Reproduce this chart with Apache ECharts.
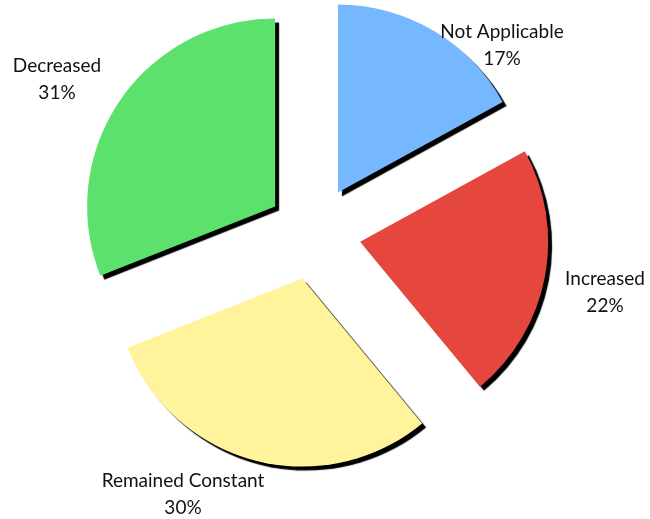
<!DOCTYPE html>
<html><head><meta charset="utf-8">
<script src="https://cdn.jsdelivr.net/npm/echarts@6/dist/echarts.min.js"></script>
<style>html,body{margin:0;padding:0;background:#fff}#c{width:650px;height:519px}</style>
</head><body><div id="c"></div>
<script>
var categories = ['Not Applicable', 'Increased', 'Remained Constant', 'Decreased'];
var values = [17, 22, 30, 31];
var colors = ['#75B8FF', '#E5473F', '#FFF39B', '#5CE26C'];
var labelPos = [[502, 45], [605, 292], [183, 494], [57, 79]];

var CX = 314, CY = 233, R = 188, EXPLODE = 47;
var total = values.reduce(function (a, b) { return a + b; }, 0);
var cum = 0;
var series = categories.map(function (name, i) {
  var mid = (cum + values[i] / 2) / total * 2 * Math.PI;
  cum += values[i];
  var center = [CX + EXPLODE * Math.sin(mid), CY - EXPLODE * Math.cos(mid)];
  return {
    type: 'pie',
    center: center,
    radius: R,
    startAngle: 90,
    clockwise: true,
    silent: true,
    emphasis: {disabled: true},
    labelLine: {show: false},
    data: categories.map(function (n, j) {
      var show = j === i;
      return {
        name: n,
        value: values[j],
        itemStyle: show ? {
          color: colors[j], shadowColor: '#000', shadowBlur: 1, shadowOffsetX: 4, shadowOffsetY: 4
        } : {color: 'rgba(0,0,0,0)', shadowColor: 'rgba(0,0,0,0)'},
        label: show ? {
          show: true,
          position: 'outside',
          overflow: 'none',
          edgeDistance: 0,
          formatter: function (p) { return p.name + '\n' + p.value + '%'; },
          fontFamily: 'Lato',
          fontSize: 19,
          lineHeight: 27,
          color: '#111'
        } : {show: false}
      };
    }),
    labelLayout: function (p) {
      return {x: labelPos[i][0], y: labelPos[i][1], align: 'center', verticalAlign: 'middle', width: 300};
    }
  };
});

var chart = echarts.init(document.getElementById('c'), null, {renderer: 'canvas'});
chart.setOption({animation: false, series: series});
</script></body></html>
